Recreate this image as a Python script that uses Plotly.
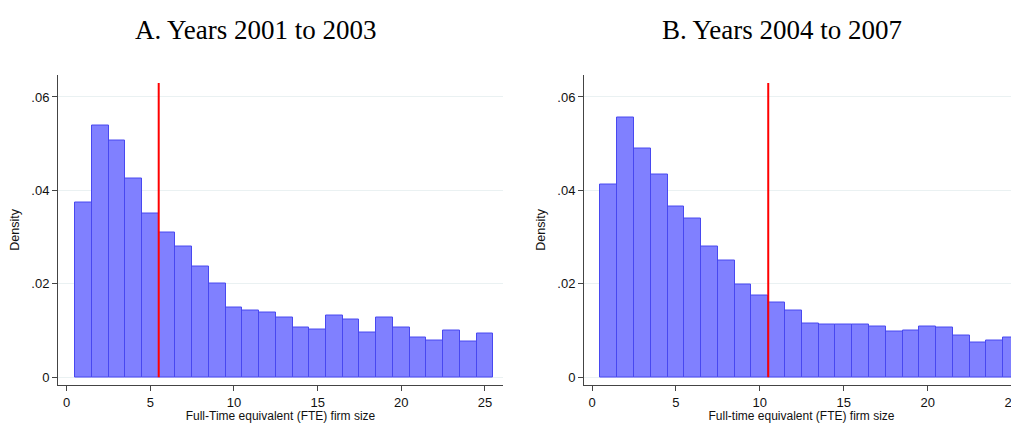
import plotly.graph_objects as go

bins = list(range(1, 26))
dens_a = [0.0375, 0.0539, 0.0507, 0.0426, 0.0350, 0.0309, 0.0279, 0.0237, 0.0200, 0.0150,
          0.0144, 0.0138, 0.0127, 0.0106, 0.0102, 0.0132, 0.0123, 0.0096, 0.0127, 0.0106,
          0.0086, 0.0079, 0.0101, 0.0077, 0.0094]
dens_b = [0.0412, 0.0557, 0.0490, 0.0433, 0.0366, 0.0339, 0.0280, 0.0251, 0.0199, 0.0175,
          0.0161, 0.0142, 0.0115, 0.0112, 0.0114, 0.0114, 0.0108, 0.0099, 0.0101, 0.0108,
          0.0106, 0.0089, 0.0074, 0.0078, 0.0086]
cutoff_a = 5.5
cutoff_b = 10.5
line_top = 0.063
titles = ["A. Years 2001 to 2003", "B. Years 2004 to 2007"]
xtitles = ["Full-Time equivalent (FTE) firm size", "Full-time equivalent (FTE) firm size"]
ytick_vals = [0, 0.02, 0.04, 0.06]
ytick_text = ["0", ".02", ".04", ".06"]
xtick_vals = [0, 5, 10, 15, 20, 25]

# page body has an 8px margin; size figure so it fills the 1019x423 window
OFF = 8
W, H = 1019 - OFF, 423 - OFF

def fx(page_x):
    return (page_x - OFF) / W

def fy(page_y):
    return (423 - page_y) / H

fig = go.Figure()

bar_style = dict(marker=dict(color="#8080ff", line=dict(color="#4848f0", width=1)),
                 width=1, showlegend=False, hoverinfo="x+y")
fig.add_trace(go.Bar(x=bins, y=dens_a, xaxis="x", yaxis="y", **bar_style))
fig.add_trace(go.Bar(x=bins, y=dens_b, xaxis="x2", yaxis="y2", **bar_style))
fig.add_trace(go.Scatter(x=[cutoff_a, cutoff_a], y=[0, line_top], mode="lines",
                         line=dict(color="#ff0000", width=2), xaxis="x", yaxis="y", showlegend=False))
fig.add_trace(go.Scatter(x=[cutoff_b, cutoff_b], y=[0, line_top], mode="lines",
                         line=dict(color="#ff0000", width=2), xaxis="x2", yaxis="y2", showlegend=False))

font_sans = dict(family="Liberation Sans, Arial, sans-serif", size=12, color="#111")
tick_font = dict(family="Liberation Sans, Arial, sans-serif", size=13, color="#111")
ydom = [fy(388), fy(75)]

def xaxis(domain, rng, title, anchor):
    return dict(domain=domain, range=rng, anchor=anchor, tickvals=xtick_vals,
                showgrid=False, zeroline=False, showline=True, linecolor="#444", linewidth=1,
                ticks="outside", ticklen=5, tickcolor="#444", tickfont=tick_font,
                ticklabeloverflow="allow",
                title=dict(text=title, font=font_sans, standoff=5))

def yaxis(anchor):
    return dict(domain=ydom, range=[-0.0017, 0.0648], anchor=anchor,
                tickvals=ytick_vals, ticktext=ytick_text,
                showgrid=True, gridcolor="#eaf1f2", gridwidth=1, zeroline=False,
                showline=True, linecolor="#444", linewidth=1,
                ticks="outside", ticklen=5, tickcolor="#444", tickfont=tick_font,
                title=dict(text="Density", font=dict(font_sans, size=12.5), standoff=8))

title_font = dict(family="Liberation Serif, Times New Roman, serif", size=27, color="#000")

fig.update_layout(
    width=W, height=H, margin=dict(l=0, r=0, t=0, b=0),
    paper_bgcolor="white", plot_bgcolor="white", bargap=0,
    xaxis=xaxis([fx(58), fx(503)], [-0.52, 26.08], xtitles[0], "y"),
    yaxis=yaxis("x"),
    xaxis2=xaxis([fx(584), 1.0], [-0.477, 25.44], xtitles[1], "y2"),
    yaxis2=yaxis("x2"),
    annotations=[
        dict(text=titles[0], x=fx(256), y=fy(30), xref="paper", yref="paper",
             showarrow=False, xanchor="center", yanchor="middle", font=title_font),
        dict(text=titles[1], x=fx(782), y=fy(30), xref="paper", yref="paper",
             showarrow=False, xanchor="center", yanchor="middle", font=title_font),
    ],
)

fig.write_html("out.html")
